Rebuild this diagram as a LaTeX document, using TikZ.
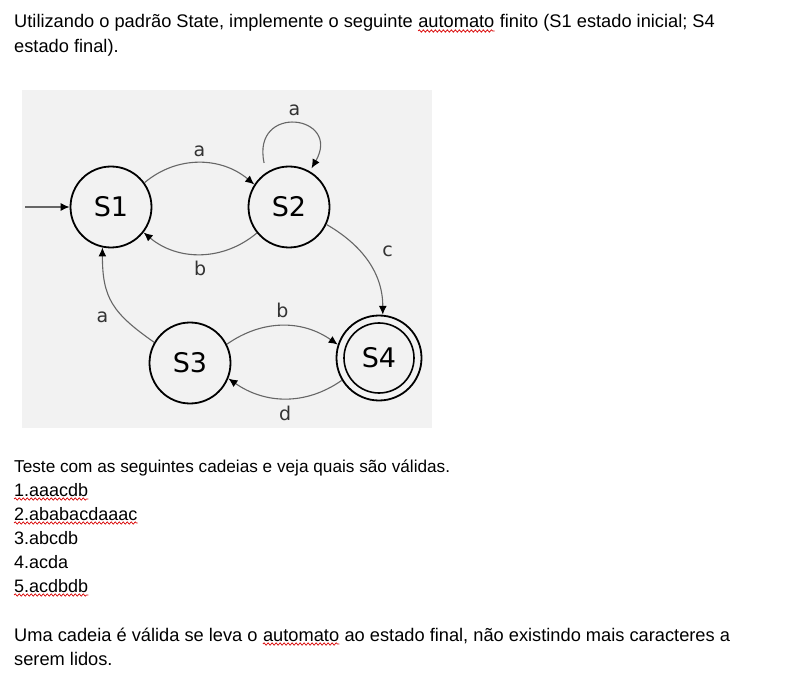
\documentclass[tikz,border=0pt]{standalone}
\usepackage{fontspec}
\setmainfont{Liberation Sans}
\newfontfamily\dejavu{DejaVu Sans}
\usetikzlibrary{positioning,arrows.meta,decorations.pathmorphing}
\tikzset{
  txt/.style={anchor=base west,inner sep=0pt,font=\fontsize{18}{24}\selectfont},
  wide/.style={font=\fontsize{18.25}{24}\selectfont},
  wavy/.style={draw=red!85!black,line width=0.7pt,decorate,decoration={snake,amplitude=1.2pt,segment length=4pt}},
  state/.style={circle,draw,line width=1.8pt,minimum size=81pt,inner sep=0pt,font=\dejavu\fontsize{27}{27}\selectfont},
  trans/.style={draw=black!60,line width=1.1pt,-{Latex[length=9pt,width=8pt,color=black]}},
  lbl/.style={font=\dejavu\fontsize{19}{19}\selectfont,text=black!80},
}
\begin{document}
\begin{tikzpicture}[x=1pt,y=1pt]
  \useasboundingbox (0,0) rectangle (804,-687);
  \fill[white] (0,0) rectangle (804,-687);
  % question text
  \node[txt,wide] (l1a) at (14,-28) {Utilizando o padrão State, implemente o seguinte};
  \node[txt,wide,base right=5pt of l1a] (auto1) {automato};
  \node[txt,wide,base right=5pt of auto1] (l1b) {finito (S1 estado inicial; S4};
  \node[txt,wide] (l2) at (14,-53) {estado final).};
  \draw[wavy] ([yshift=-3pt]auto1.base west) -- ([yshift=-3pt]auto1.base east);
  % automaton
  \fill[black!5] (22,-90) rectangle (432,-428);
  \node[state] (S1) at (111,-207) {S1};
  \node[state] (S2) at (289,-207) {S2};
  \node[state] (S3) at (190,-363) {S3};
  \node[state,minimum size=85pt] (S4) at (379,-358) {S4};
  \node[state,minimum size=70pt,line width=1.6pt] (S4ring) at (S4) {};
  \coordinate (init) at (25,-207);
  \draw[trans] (init) -- (S1);
  \draw[trans] (S1.36) to[out=40,in=140] node[lbl,above=2pt] {a} (S2.147);
  \draw[trans] (S2.219) to[out=220,in=-40] node[lbl,below=3pt] {b} (S1.-38);
  \draw[trans] ([yshift=11pt]S2.127) to[out=102,in=60,looseness=3.3] node[lbl,above=3pt] {a} ([yshift=4pt]S2.57);
  \draw[trans] (S2.-25) to[out=-30,in=90] node[lbl,pos=.38,right=18pt] {c} (S4.85);
  \draw[trans] (S3.150) to[out=145,in=-90,looseness=1.2] node[lbl,pos=.32,left=11pt] {a} (S1.-102);
  \draw[trans] (S3.27) to[out=35,in=145] node[lbl,above=4pt] {b} (S4.162);
  \draw[trans] (S4.211) to[out=215,in=-35] node[lbl,below=4pt] {d} (S3.-22);
  % strings to test
  \node[txt,font=\fontsize{17.2}{24}\selectfont] (teste) at (14,-472) {Teste com as seguintes cadeias e veja quais são válidas.};
  \node[txt] (c1) at (14,-496) {1.aaacdb};
  \node[txt] (c2) at (14,-520) {2.ababacdaaac};
  \node[txt] (c3) at (14,-544) {3.abcdb};
  \node[txt] (c4) at (14,-568) {4.acda};
  \node[txt] (c5) at (14,-592) {5.acdbdb};
  \draw[wavy] ([yshift=-3pt]c1.base west) -- ([yshift=-3pt]c1.base east);
  \draw[wavy] ([yshift=-3pt]c2.base west) -- ([yshift=-3pt]c2.base east);
  \draw[wavy] ([yshift=-3pt]c5.base west) -- ([yshift=-3pt]c5.base east);
  % closing remark
  \node[txt,wide] (u1a) at (14,-641) {Uma cadeia é válida se leva o};
  \node[txt,wide,base right=5pt of u1a] (auto2) {automato};
  \node[txt,wide,base right=5pt of auto2] (u1b) {ao estado final, não existindo mais caracteres a};
  \node[txt,wide] (u2) at (14,-665) {serem lidos.};
  \draw[wavy] ([yshift=-3pt]auto2.base west) -- ([yshift=-3pt]auto2.base east);
\end{tikzpicture}
\end{document}
